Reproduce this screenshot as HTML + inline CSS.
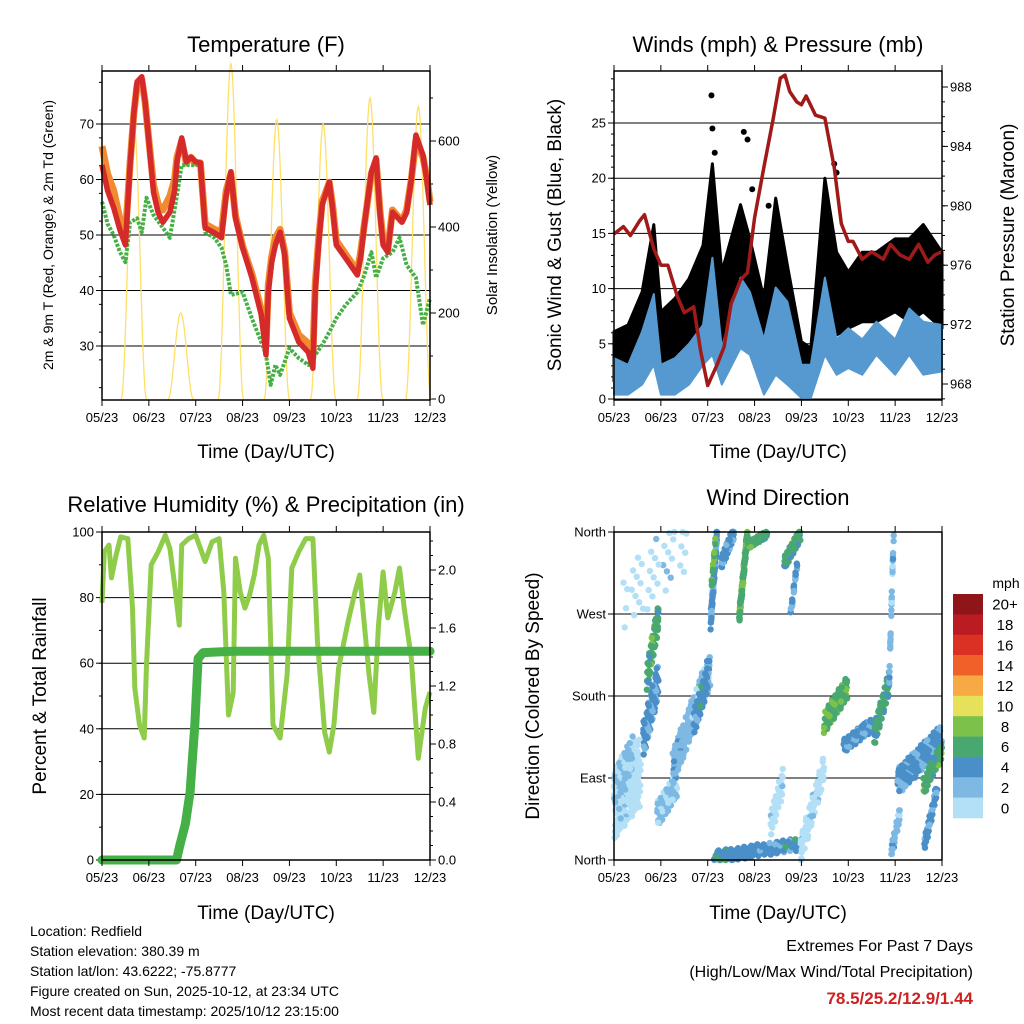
<!DOCTYPE html>
<html><head><meta charset="utf-8"><style>
body{margin:0;background:#fff}
svg{display:block;font-family:"Liberation Sans",Arial,sans-serif}
</style></head><body>
<svg id="chart" width="1024" height="1024" viewBox="0 0 1024 1024" xmlns="http://www.w3.org/2000/svg"></svg>
<script>
// ---------- DATA ----------
const xTickLabels = ["05/23","06/23","07/23","08/23","09/23","10/23","11/23","12/23"];
// Temperature panel
const tempTimes = [0,0.12,0.25,0.38,0.5,0.6,0.68,0.75,0.85,0.92,1.0,1.1,1.2,1.3,1.45,1.55,1.6,1.7,1.8,1.9,2.0,2.1,2.2,2.4,2.55,2.65,2.75,2.85,3.0,3.2,3.4,3.5,3.55,3.62,3.7,3.8,3.9,4.0,4.2,4.4,4.5,4.55,4.62,4.7,4.85,4.92,5.0,5.2,5.45,5.52,5.6,5.75,5.85,5.93,6.0,6.1,6.2,6.4,6.5,6.6,6.7,6.85,6.93,7.0];
const tempRed = [62.6,58,54.9,51,48.2,62.6,72,77.6,78.5,74,66.8,57.7,54,52.3,54.1,58,63.2,67.5,63.2,64,63.2,63,51.3,50.4,49.5,57.2,61.4,53,47.7,42.3,35.6,28.4,39.7,45,48.2,50.5,46.4,35,30.7,28.9,26,39.7,48,55.4,59.5,55,48.2,45.8,42.8,46,51.8,61.4,63.9,54,48.2,46.9,54.1,52.3,54,60,68,64.4,60,55.4];
const tempOrange = [66,61,58,53,50,63,72,77,78,74,67,59,55.5,54.5,57,60,64,67,63,64,63,63,52,51,50.5,58,61,53.5,48,43,36.5,30,41,46,49.5,51,47,36,32,30.5,28,41,49,56,59.5,55.5,49,46.5,43.5,47,52,61,63.5,54.5,49,47.5,54.5,52.5,54.5,60,67,64,60.5,56];
const dewTimes = [0,0.12,0.25,0.38,0.5,0.6,0.75,0.85,0.95,1.1,1.3,1.45,1.6,1.7,2.0,2.1,2.2,2.4,2.55,2.65,2.75,3.0,3.2,3.4,3.5,3.6,3.7,3.8,4.0,4.2,4.4,4.55,4.7,4.85,5.0,5.2,5.45,5.6,5.75,5.85,6.0,6.2,6.35,6.5,6.7,6.85,7.0];
const dewGreen = [56,52,50,47,45.1,52.3,53,50.5,56.7,53.6,51.3,49.5,57.2,62.6,62.6,62.6,50.5,49.5,47.7,44.6,39.2,39.7,35,30.7,28.4,23,26.6,24.8,29.6,27.8,26.6,28.4,30.2,32.5,35,37.4,39.7,42.8,46.9,42.3,45.8,46.9,49.5,44.6,42.3,33.8,38.6];
const solarPeakTimes = [0.68,1.68,2.75,3.73,4.72,5.72,6.75];
const solarPeakValues = [640,200,780,650,640,700,680];
// Winds panel
const windTimes = [0,0.3,0.6,0.85,1.0,1.3,1.6,1.9,2.1,2.3,2.7,2.9,3.2,3.45,3.7,4.0,4.2,4.5,4.75,5.0,5.3,5.6,6.0,6.3,6.6,7.0];
const windHigh = [3.7,3.1,6.1,9.5,3.1,3.7,5,6.7,12.8,4.6,11,9.7,5.4,10.1,8.8,3.1,3.1,11,5.4,6.4,5.4,7,5.4,8.2,7,6.7];
const windLow = [0.4,0.4,1.3,3.1,0.4,0.4,1.3,3.1,4,1.3,4.6,4,0.4,2.2,1.3,0.1,0.1,4,2.2,2.8,2.2,4,2.2,4,2.2,2.5];
const gustHigh = [6.1,6.7,9.7,15.8,7.9,9.1,10.9,13.9,21.3,11.5,17.6,14.5,9.1,18.2,12.1,5.2,4.6,20,13.3,11.5,13.3,13.3,14.5,14.5,15.8,13.3];
const gustLow = [1.6,2.2,4,6.4,1.6,2.5,4,5.5,9.1,4,9.1,6.7,3.7,9.1,6.7,3.1,2.8,9.1,5.8,6.4,7,7,7.9,7,7.9,6.4];
const gustOutT = [2.08,2.1,2.77,2.85,4.7,2.15,3.3,2.95,4.75];
const gustOutV = [27.5,24.5,24.2,23.5,21.3,22.3,17.5,19,20.5];
const presTimes = [0,0.2,0.35,0.55,0.65,0.85,1.0,1.15,1.35,1.5,1.7,1.85,2.0,2.2,2.35,2.5,2.7,2.85,3.0,3.2,3.4,3.55,3.65,3.75,3.9,4.0,4.1,4.3,4.5,4.7,4.85,5.0,5.1,5.3,5.5,5.75,5.9,6.1,6.3,6.5,6.7,6.85,7.0];
const presValues = [978.1,978.6,978,979,979.4,977.1,976,976,973.9,972.8,973.2,970.2,967.9,969.3,970.5,973.4,975,975.5,979.2,982.6,985.9,988.6,988.8,987.7,987,986.8,987.4,986.1,985.9,982.6,978.8,977.6,977.6,976.4,976.9,976.4,977.4,976.7,976.4,977.4,976.2,976.7,976.9];
// RH panel
const rhTimes = [0,0.05,0.15,0.2,0.3,0.4,0.55,0.65,0.7,0.8,0.9,0.95,1.05,1.2,1.35,1.45,1.55,1.65,1.7,1.85,2.0,2.2,2.35,2.5,2.6,2.7,2.8,2.85,2.95,3.05,3.15,3.25,3.35,3.45,3.55,3.65,3.8,3.95,4.05,4.2,4.35,4.5,4.6,4.75,4.85,4.95,5.05,5.25,5.4,5.5,5.6,5.7,5.8,5.9,6.0,6.1,6.25,6.35,6.45,6.6,6.75,6.9,7.0];
const rhValues = [78.4,94,96,86,93,98.5,98,76.8,52.4,41.2,37.2,59.5,90,94,99,95,84,71.6,96,98,99,91,97,98,81.7,44.2,51,92,81.7,76.8,80.8,86.9,96,99,92,41.2,37.2,56.4,89,94,98,98,66.5,39,32.9,41.2,58.5,72.6,81.7,86.9,71.6,56.4,45,71.6,87.8,73.8,81.7,89,76.8,61.6,31,46.3,51.2];
const precipTimes = [0,1.59,1.66,1.78,1.88,1.98,2.05,2.16,2.8,7.0];
const precipValues = [0,0,0.1,0.25,0.47,0.93,1.39,1.43,1.44,1.44];
// Wind direction panel (observation streaks: start/end day, start/end direction, spread, speed, count)
const dirT0 = [0,0,0.62,0.7,0.92,1.25,1.7,2.06,2.08,2.28,2.67,2.85,3.63,3.77,2.13,3.98,4.48,4.9,5.55,5.87,5.9,6.05,6.6,6.62,0.2,3.34];
const dirT1 = [0.57,0.4,0.95,0.95,1.35,2.05,2.0,2.2,2.18,2.56,2.85,3.27,3.98,3.91,4.05,4.48,4.98,5.55,5.87,5.97,6.1,7.0,7.0,6.9,1.57,3.63];
const dirD0 = [60,80,130,200,50,100,150,260,300,325,265,345,325,270,3,10,150,125,135,190,5,85,80,15,280,40];
const dirD1 = [100,120,200,268,85,210,200,360,360,360,360,358,358,325,18,100,190,150,195,360,50,135,120,80,355,90];
const dirSpread = [80,40,40,30,30,40,30,20,10,15,15,8,15,10,14,30,25,15,25,10,15,30,20,15,70,30];
const dirSpeed = [1,2.5,4.5,7,2.5,3,5,4.5,8,4.5,7.5,7,6.5,4.5,5,1,7.5,4.5,6.5,3,3,4.5,7,4.5,1,1];
const dirCount = [110,50,80,70,60,140,50,60,14,60,70,50,60,20,150,80,90,100,70,30,30,150,50,40,40,35];
const cbLabels = ["20+","18","16","14","12","10","8","6","4","2","0"];
const cbColors = ["#8f1519","#bb1b23","#db3024","#f06129","#f7a943","#e6e05a","#7cc24a","#48a870","#4a8fc7","#7eb9e3","#b3e0f7"];

// ---------- HELPERS ----------
const svg = document.getElementById('chart');
const NS = 'http://www.w3.org/2000/svg';
function mk(tag, attrs, parent){
  const e = document.createElementNS(NS, tag);
  for (const k in attrs) e.setAttribute(k, attrs[k]);
  (parent||svg).appendChild(e); return e;
}
function txt(s, x, y, size, anchor, parent, rot){
  const t = mk('text', {x:x, y:y, 'font-size':size, 'text-anchor':anchor||'middle', fill:'#000'}, parent);
  if (rot) t.setAttribute('transform', `rotate(${rot} ${x} ${y})`);
  t.textContent = s; return t;
}
function scale(d0,d1,r0,r1){ return v => r0 + (v-d0)/(d1-d0)*(r1-r0); }
function poly(ts, vs, sx, sy){ return ts.map((t,i)=>sx(t).toFixed(1)+','+sy(vs[i]).toFixed(1)).join(' '); }
function frac(v){ return v - Math.floor(v); }

function panel(name){
  const g = mk('g', {});
  
  
  return g;
}
function frame(g, x0,x1,y0,y1){
  const r = mk('rect', {x:x0,y:y0,width:x1-x0,height:y1-y0,fill:'none',stroke:'#000','stroke-width':1.5}, g);
  
  
}
function xAxis(g, x0, x1, y0, y1, labelY){
  const sx = scale(0,7,x0,x1);
  const ax = mk('g', {}, g);
  
  
  xTickLabels.forEach((l,i)=>{
    const x = sx(i);
    mk('line',{x1:x,x2:x,y1:y1,y2:y1+6,stroke:'#000','stroke-width':1},ax);
    mk('line',{x1:x,x2:x,y1:y0,y2:y0-6,stroke:'#000','stroke-width':1},ax);
    const t = txt(l, x, y1+22, 13, 'middle', ax);
    
    
  });
  const tl = txt('Time (Day/UTC)', (x0+x1)/2, labelY, 19, 'middle', ax);
  
  
  return sx;
}
function yTicks(g, x, vals, labels, sy, side, grid, gx0, gx1, minor){
  const ax = mk('g', {}, g);
  
  
  const dir = side==='left'?-1:1;
  if (minor) minor.forEach(v=>{ const y=sy(v); mk('line',{x1:x,x2:x+dir*3,y1:y,y2:y,stroke:'#000','stroke-width':1},ax); });
  vals.forEach((v,i)=>{
    const y = sy(v);
    if (grid) mk('line',{x1:gx0,x2:gx1,y1:y,y2:y,stroke:'#000','stroke-width':1},ax);
    mk('line',{x1:x,x2:x+dir*6,y1:y,y2:y,stroke:'#000','stroke-width':1},ax);
    const t = txt(labels[i], x+dir*8, y+4.5, 13, side==='left'?'end':'start', ax);
    
    
  });
}
function range(a,b,s){ const r=[]; for(let v=a; v<=b+1e-9; v+=s) r.push(+v.toFixed(4)); return r; }

// ---------- PANEL 1: TEMPERATURE ----------
(function(){
  const x0=102,x1=430,y0=71,y1=400;
  const g = panel('temperature-panel');
  const t = txt('Temperature (F)', 266, 52, 22, 'middle', g);
   
  const sy = scale(30,70,346,124);
  const sr = scale(0,600,399,141);
  const sx = scale(0,7,x0,x1);
  yTicks(g, x0, [30,40,50,60,70], ['30','40','50','60','70'], sy, 'left', true, x0, x1, range(22.5,77.5,5));
  yTicks(g, x1, [0,200,400,600], ['0','200','400','600'], sr, 'right', false, 0,0, range(0,700,100));
  const sg = mk('g',{},g);
   
  solarPeakTimes.forEach((pt,i)=>{
    const pts=[];
    for(let k=0;k<=40;k++){ const tt = pt-0.27+k*0.54/40; const s=Math.sin(Math.PI*k/40); pts.push(sx(tt).toFixed(1)+','+sr(solarPeakValues[i]*s*s).toFixed(1)); }
    const p = mk('polyline',{points:pts.join(' '),fill:'none',stroke:'#ffe066','stroke-width':1.3},sg);
     
  });
  const o = mk('polyline',{points:poly(tempTimes,tempOrange,sx,sy),fill:'none',stroke:'#f28a30','stroke-width':7,'stroke-linejoin':'round'},g);
   
  const dg = mk('polyline',{points:poly(dewTimes,dewGreen,sx,sy),fill:'none',stroke:'#45b045','stroke-width':4,'stroke-dasharray':'3 1.5','stroke-linejoin':'round'},g);
   
  const r = mk('polyline',{points:poly(tempTimes,tempRed,sx,sy),fill:'none',stroke:'#d42a2a','stroke-width':5.5,'stroke-linejoin':'round'},g);
   
  frame(g,x0,x1,y0,y1);
  xAxis(g,x0,x1,y0,y1,458);
  const l1 = txt('2m & 9m T (Red, Orange) & 2m Td (Green)', 53, 235, 14, 'middle', g, -90);
   
  const l2 = txt('Solar Insolation (Yellow)', 497, 235, 15, 'middle', g, -90);
   
})();

// ---------- PANEL 2: WINDS ----------
(function(){
  const x0=614,x1=942,y0=71,y1=400;
  const g = panel('winds-panel');
  const t = txt('Winds (mph) & Pressure (mb)', 778, 52, 22, 'middle', g);
   
  const sy = scale(0,25,399,123);
  const sp = scale(968,988,384,87);
  const sx = scale(0,7,x0,x1);
  yTicks(g, x0, [0,5,10,15,20,25], ['0','5','10','15','20','25'], sy, 'left', true, x0, x1, range(0,29,1));
  yTicks(g, x1, [968,972,976,980,984,988], ['968','972','976','980','984','988'], sp, 'right', false, 0,0, range(967,988,1));
  const gp = poly(windTimes,gustHigh,sx,sy)+' '+poly(windTimes.slice().reverse(),gustLow.slice().reverse(),sx,sy);
  const gb = mk('polygon',{points:gp,fill:'#000','stroke':'#000','stroke-width':3,'stroke-linejoin':'round'},g);
   
  const gdots = mk('g',{},g);
   
  gustOutT.forEach((tt,i)=>{
    const c = mk('circle',{cx:sx(tt),cy:sy(gustOutV[i]),r:3,fill:'#000'},gdots);
     
  });
  const wp = poly(windTimes,windHigh,sx,sy)+' '+poly(windTimes.slice().reverse(),windLow.slice().reverse(),sx,sy);
  const wb = mk('polygon',{points:wp,fill:'#5599d0',stroke:'#5599d0','stroke-width':2,'stroke-linejoin':'round'},g);
   
  const pl = mk('polyline',{points:poly(presTimes,presValues,sx,sp),fill:'none',stroke:'#a01a1a','stroke-width':3.5,'stroke-linejoin':'round'},g);
   
  frame(g,x0,x1,y0,y1);
  xAxis(g,x0,x1,y0,y1,458);
  const l1 = txt('Sonic Wind & Gust (Blue, Black)', 561, 235, 19, 'middle', g, -90);
   
  const l2 = txt('Station Pressure (Maroon)', 1014, 235, 19, 'middle', g, -90);
   
})();

// ---------- PANEL 3: RH & PRECIP ----------
(function(){
  const x0=102,x1=430,y0=532,y1=860;
  const g = panel('humidity-precip-panel');
  const t = txt('Relative Humidity (%) & Precipitation (in)', 266, 512, 22, 'middle', g);
   
  const sy = scale(0,100,860,532);
  const sp = scale(0,2.0,860,570);
  const sx = scale(0,7,x0,x1);
  yTicks(g, x0, [0,20,40,60,80,100], ['0','20','40','60','80','100'], sy, 'left', true, x0, x1, range(0,100,10));
  yTicks(g, x1, [0,0.4,0.8,1.2,1.6,2.0], ['0.0','0.4','0.8','1.2','1.6','2.0'], sp, 'right', false, 0,0, range(0,2.2,0.1));
  const rl = mk('polyline',{points:poly(rhTimes,rhValues,sx,sy),fill:'none',stroke:'#8fcc4a','stroke-width':5,'stroke-linejoin':'round'},g);
   
  const pl = mk('polyline',{points:poly(precipTimes,precipValues,sx,sp),fill:'none',stroke:'#45b045','stroke-width':9,'stroke-linejoin':'round','stroke-linecap':'round'},g);
   
  frame(g,x0,x1,y0,y1);
  xAxis(g,x0,x1,y0,y1,919);
  const l1 = txt('Percent & Total Rainfall', 46, 696, 19, 'middle', g, -90);
   
})();

// ---------- PANEL 4: WIND DIRECTION ----------
(function(){
  const x0=614,x1=942,y0=532,y1=860;
  const g = panel('wind-direction-panel');
  const t = txt('Wind Direction', 778, 505, 22, 'middle', g);
   
  const sy = scale(0,360,860,532);
  const sx = scale(0,7,x0,x1);
  yTicks(g, x0, [0,90,180,270,360], ['North','East','South','West','North'], sy, 'left', true, x0, x1, null);
  const colorFor = s => cbColors[10-Math.min(10,Math.max(0,Math.floor(s/2)))];
  const pg = mk('g',{},g);
   
  dirT0.forEach((t0,i)=>{
    const n = dirCount[i];
    for(let k=0;k<n;k++){
      const u = frac(0.5 + k*0.7548776662 + i*0.13);
      const v = frac(0.5 + k*0.5698402910 + i*0.29) - 0.5;
      const w = frac(0.3 + k*0.4142135 + i*0.07);
      const tt = t0+(dirT1[i]-t0)*u;
      const d = Math.max(0,Math.min(360, dirD0[i]+(dirD1[i]-dirD0[i])*u + v*dirSpread[i]));
      const sp = dirSpeed[i] + (w-0.5)*2.5;
      mk('circle',{cx:sx(tt).toFixed(1),cy:sy(d).toFixed(1),r:3.2,fill:colorFor(sp)},pg);
    }
  });
  frame(g,x0,x1,y0,y1);
  xAxis(g,x0,x1,y0,y1,919);
  const l1 = txt('Direction (Colored By Speed)', 539, 696, 19, 'middle', g, -90);
   
  const cb = mk('g',{},g);
   
  const ml = txt('mph', 1006, 588, 14, 'middle', cb);
   
  const bh = 224/11;
  cbLabels.forEach((l,i)=>{
    const r = mk('rect',{x:953,y:594+i*bh,width:30,height:bh+0.3,fill:cbColors[i]},cb);
     
    txt(l, 1005, 594+i*bh+bh/2+5.5, 15, 'middle', cb);
  });
})();

// ---------- FOOTER ----------
(function(){
  const g = mk('g',{});
   
  const lines = ['Location: Redfield','Station elevation: 380.39 m','Station lat/lon: 43.6222; -75.8777','Figure created on Sun, 2025-10-12, at 23:34 UTC','Most recent data timestamp: 2025/10/12 23:15:00'];
  lines.forEach((l,i)=>{ txt(l, 30, 936+i*20, 14, 'start', g); });
  const e = mk('g',{});
   
  txt('Extremes For Past 7 Days', 973, 951, 16, 'end', e);
  txt('(High/Low/Max Wind/Total Precipitation)', 973, 977, 16, 'end', e);
  const v = txt('78.5/25.2/12.9/1.44', 973, 1004, 17, 'end', e);
  v.setAttribute('font-weight','bold'); v.setAttribute('fill','#cc2222');
   
})();
</script>
</body></html>
